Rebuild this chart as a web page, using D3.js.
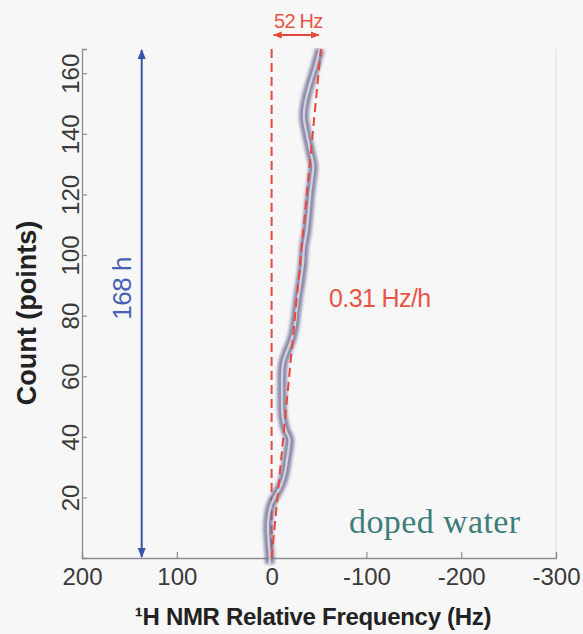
<!DOCTYPE html>
<html lang="en">
<head>
<meta charset="UTF-8">
<title>Doped water drift</title>
<script src="https://d3js.org/d3.v7.min.js"></script>
<style>
  html, body { margin: 0; padding: 0; background: #f7f7f7; }
  svg { display: block; }
</style>
</head>
<body>
<div id="chart"></div>
<script>
// count (points) vs relative frequency (Hz)
var counts = [-2, 0, 5, 10, 14, 18, 21, 24, 28, 32, 36, 39, 42, 46, 50, 56, 60, 64, 68, 72, 76, 81, 86, 92, 97, 102, 108, 114, 121, 126, 129, 134, 140, 146, 151, 157, 162, 168];
var freqs = [2, 2, 3, 4, 3, 0, -5, -10, -14, -16, -18, -19, -15, -12, -11, -11, -11, -12, -16, -21, -24, -26, -28, -31, -33, -34, -37, -39, -41, -43, -44, -41, -37, -34, -36, -41, -46, -51];
var xTicks = [200, 100, 0, -100, -200, -300];
var yTicks = [20, 40, 60, 80, 100, 120, 140, 160];
var trendCounts = [0, 168];
var trendFreqs = [0, -52];
var spanHours = 168;
var arrowFreq = 137;

var width = 583, height = 634;
var svg = d3.select("#chart").append("svg")
    .attr("width", width)
    .attr("height", height);

var x = d3.scaleLinear().domain([200, -300]).range([82, 556]);
var y = d3.scaleLinear().domain([0, 168]).range([558, 49]);

var axisColor = "#8c8c98";
var red = "#e8473c";
var blue = "#3a52a8";
var sans = "'Liberation Sans', Arial, sans-serif";

var defs = svg.append("defs");
defs.append("filter").attr("id", "soft")
    .attr("x", "-50%").attr("width", "200%")
    .append("feGaussianBlur").attr("stdDeviation", 1.8);
defs.append("clipPath").attr("id", "plotclip")
    .append("rect").attr("x", 60).attr("y", 48).attr("width", 500).attr("height", 530);
defs.append("marker").attr("id", "headB")
    .attr("viewBox", "0 0 10 10").attr("refX", 9).attr("refY", 5)
    .attr("markerWidth", 5).attr("markerHeight", 5).attr("orient", "auto-start-reverse")
    .append("path").attr("d", "M0,1 L10,5 L0,9 Z").attr("fill", blue);
defs.append("marker").attr("id", "headR")
    .attr("viewBox", "0 0 10 10").attr("refX", 9).attr("refY", 5)
    .attr("markerWidth", 5).attr("markerHeight", 5).attr("orient", "auto-start-reverse")
    .append("path").attr("d", "M0,1 L10,5 L0,9 Z").attr("fill", red);

// right frame line (faint)
svg.append("line")
    .attr("x1", x(-300)).attr("x2", x(-300))
    .attr("y1", y(168)).attr("y2", y(0))
    .attr("stroke", "#e2e2e6").attr("stroke-width", 1.2);

// axes
var xAxis = d3.axisBottom(x).tickValues(xTicks).tickSize(-6).tickFormat(function (d) { return String(d); });
var yAxis = d3.axisLeft(y).tickValues(yTicks).tickSize(-5).tickFormat(function (d) { return String(d); });

var gx = svg.append("g").attr("transform", "translate(0," + y(0) + ")").call(xAxis);
var gy = svg.append("g").attr("transform", "translate(" + x(200) + ",0)").call(yAxis);

[gx, gy].forEach(function (g) {
    g.select(".domain").attr("stroke", axisColor).attr("stroke-width", 1.3);
    g.selectAll(".tick line").attr("stroke", axisColor).attr("stroke-width", 1.2);
    g.selectAll(".tick text")
        .attr("fill", "#3a3a3a")
        .style("font-family", sans)
        .style("font-size", "24px");
});
gx.selectAll(".tick text").attr("y", 10).attr("dy", "0.71em");
gy.selectAll(".tick text")
    .attr("transform", "rotate(-90)")
    .attr("x", 0).attr("y", -3)
    .attr("dy", 0)
    .style("text-anchor", "middle");

// axis titles
svg.append("text")
    .attr("x", 313).attr("y", 625)
    .attr("text-anchor", "middle")
    .attr("fill", "#222")
    .style("font-family", sans)
    .style("font-weight", "bold")
    .style("font-size", "24px")
    .style("letter-spacing", "-0.3px")
    .text("\u00B9H NMR Relative Frequency (Hz)");

svg.append("text")
    .attr("transform", "translate(36,313) rotate(-90)")
    .attr("text-anchor", "middle")
    .attr("fill", "#222")
    .style("font-family", sans)
    .style("font-weight", "bold")
    .style("font-size", "27px")
    .text("Count (points)");

// 168 h blue double arrow
svg.append("line")
    .attr("x1", x(arrowFreq)).attr("x2", x(arrowFreq))
    .attr("y1", y(0) - 1).attr("y2", y(spanHours) + 1)
    .attr("stroke", blue).attr("stroke-width", 2)
    .attr("marker-start", "url(#headB)")
    .attr("marker-end", "url(#headB)");

svg.append("text")
    .attr("transform", "translate(" + (x(arrowFreq) - 11) + "," + y(89) + ") rotate(-90)")
    .attr("text-anchor", "middle")
    .attr("fill", "#4660b4")
    .style("font-family", sans)
    .style("font-size", "26px")
    .style("letter-spacing", "-0.5px")
    .text(spanHours + " h");

// zero reference dashed line
svg.append("line")
    .attr("x1", x(0)).attr("x2", x(0))
    .attr("y1", y(168)).attr("y2", y(0))
    .attr("stroke", red).attr("stroke-width", 2)
    .attr("stroke-dasharray", "9,5");

// measured line (blurred band with a light core)
var pts = counts.map(function (c, i) { return [freqs[i], c]; });
var line = d3.line()
    .x(function (d) { return x(d[0]); })
    .y(function (d) { return y(d[1]); })
    .curve(d3.curveMonotoneY);

var plot = svg.append("g").attr("clip-path", "url(#plotclip)");
plot.append("path")
    .attr("d", line(pts))
    .attr("fill", "none")
    .attr("stroke", "#6f6d95")
    .attr("stroke-width", 9.5)
    .attr("stroke-opacity", 0.8)
    .attr("stroke-linejoin", "round")
    .attr("filter", "url(#soft)");
plot.append("path")
    .attr("d", line(pts))
    .attr("fill", "none")
    .attr("stroke", "#ffffff")
    .attr("stroke-width", 2.4)
    .attr("stroke-opacity", 0.6);

// linear trend, dashed
var trend = trendCounts.map(function (c, i) { return [trendFreqs[i], c]; });
plot.append("path")
    .attr("d", d3.line().x(function (d) { return x(d[0]); }).y(function (d) { return y(d[1]); })(trend))
    .attr("fill", "none")
    .attr("stroke", red)
    .attr("stroke-width", 2)
    .attr("stroke-dasharray", "9,5");

// 52 Hz span arrow
svg.append("line")
    .attr("x1", x(0) + 2).attr("x2", x(trendFreqs[1]) - 2)
    .attr("y1", 35).attr("y2", 35)
    .attr("stroke", red).attr("stroke-width", 1.8)
    .attr("marker-start", "url(#headR)")
    .attr("marker-end", "url(#headR)");

svg.append("text")
    .attr("x", (x(0) + x(trendFreqs[1])) / 2 + 2).attr("y", 28)
    .attr("text-anchor", "middle")
    .attr("fill", "#e85548")
    .style("font-family", sans)
    .style("font-size", "20px")
    .style("letter-spacing", "-0.8px")
    .text(Math.abs(trendFreqs[1]) + " Hz");

svg.append("text")
    .attr("x", 329).attr("y", 307)
    .attr("fill", "#e85548")
    .style("font-family", sans)
    .style("font-size", "25px")
    .style("letter-spacing", "-0.6px")
    .text("0.31 Hz/h");

svg.append("text")
    .attr("x", 349).attr("y", 533)
    .attr("fill", "#3f7d7b")
    .style("font-family", "'Liberation Serif', 'Times New Roman', serif")
    .style("font-size", "34px")
    .style("letter-spacing", "0.4px")
    .text("doped water");
</script>
</body>
</html>
